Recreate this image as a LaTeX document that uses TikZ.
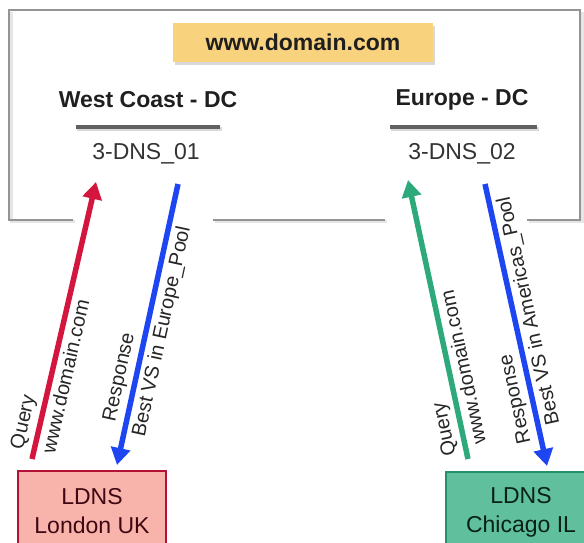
\documentclass[tikz,border=0pt]{standalone}
\usepackage{fontspec}
\setmainfont{Liberation Sans}
\usetikzlibrary{arrows.meta,shadows}

\definecolor{qred}{HTML}{D4163F}
\definecolor{rblue}{HTML}{1E45F2}
\definecolor{qgreen}{HTML}{2DA97C}
\definecolor{zoneyellow}{HTML}{F9D27E}
\definecolor{ldnspink}{HTML}{F8B4AA}
\definecolor{ldnsteal}{HTML}{60BF9D}

\tikzset{
  headtxt/.style={font=\fontsize{23}{25}\selectfont\bfseries,text=black!88,inner sep=2pt},
  dnstxt/.style={font=\fontsize{23}{25}\selectfont,text=black!80,inner sep=2pt},
  flowtxt/.style={font=\fontsize{20}{22}\selectfont,text=black!85,inner sep=4pt},
  ldnsbox/.style={draw,line width=2pt,minimum width=148pt,minimum height=80pt,align=center,
    font=\fontsize{23}{29}\selectfont},
  flow/.style={line width=5.5pt,-{Triangle[length=17pt,width=19pt]}},
  rule/.style={line width=3.5pt,draw=black!62},
  ruleshade/.style={line width=4pt,draw=black!15},
}

\begin{document}
\begin{tikzpicture}[x=1pt,y=1pt]
      \useasboundingbox (0,0) rectangle (584,543);

      % the site box, open where the arrows cross it
      \draw[line width=3pt,black!10] (75,321) -- (11,321) -- (11,531) (215,321) -- (387,321) (529,321) -- (582,321) -- (582,531);
      \draw[line width=1.4pt,black!42] (73,323) -- (9,323) -- (9,533) -- (580,533) -- (580,323) -- (527,323) (213,323) -- (385,323);

      \path (303,500.5) node [fill=zoneyellow,minimum width=260pt,minimum height=39pt,headtxt,
        drop shadow={shadow xshift=2pt,shadow yshift=-3pt,opacity=.3}] (domain) {www.domain.com};

      \path (148,443) node [headtxt] (dc_west) {West Coast - DC};
      \path (462,443) node [headtxt] (dc_europe) {Europe - DC};
      \draw[ruleshade] (77,414) -- (222,414);
      \draw[rule] (76,416) -- (220,416);
      \draw[ruleshade] (391,414) -- (539,414);
      \draw[rule] (390,416) -- (537,416);
      \path (146,389) node [dnstxt] (dns_a) {3-DNS\_01};
      \path (462,389) node [dnstxt] (dns_b) {3-DNS\_02};

      \path (92,32) node [ldnsbox,draw=qred!85!black,fill=ldnspink,text=black!70!qred] (ldns_lon) {LDNS\\London UK};
      \path (521,31) node [ldnsbox,minimum width=150pt,draw=qgreen!85!black,fill=ldnsteal,text=black!80!qgreen] (ldns_chi) {LDNS\\Chicago IL};

      % London asks, West Coast answers
      \draw[flow,qred] ([xshift=15pt,yshift=11pt]ldns_lon.north west) -- ([xshift=-50pt,yshift=-28pt]dns_a.center)
        node[flowtxt,pos=0,rotate=77.2,anchor=south west] (q_lon) {Query}
        node[flowtxt,pos=0.01,rotate=77.2,anchor=north west] (qd_lon) {www.domain.com};
      \draw[flow,rblue] ([xshift=32pt,yshift=-30pt]dns_a.center) -- ([xshift=25pt,yshift=5pt]ldns_lon.north)
        node[flowtxt,pos=0.88,rotate=77.8,anchor=south west] (r_lon) {Response}
        node[flowtxt,pos=0.91,rotate=77.8,anchor=north west] (rd_lon) {Best VS in Europe\_Pool};

      % Chicago asks, Europe answers
      \draw[flow,qgreen] ([xshift=-53pt,yshift=12pt]ldns_chi.north) -- ([xshift=-54pt,yshift=-26pt]dns_b.center)
        node[flowtxt,pos=0,rotate=102.1,anchor=south west] (q_chi) {Query}
        node[flowtxt,pos=0.02,rotate=102.1,anchor=north west] (qd_chi) {www.domain.com};
      \draw[flow,rblue] ([xshift=23pt,yshift=-30pt]dns_b.center) -- ([xshift=26pt,yshift=5pt]ldns_chi.north)
        node[flowtxt,pos=0.93,rotate=102.4,anchor=south west] (r_chi) {Response}
        node[flowtxt,pos=0.89,rotate=102.4,anchor=north west] (rd_chi) {Best VS in Americas\_Pool};

    \end{tikzpicture}
\end{document}
